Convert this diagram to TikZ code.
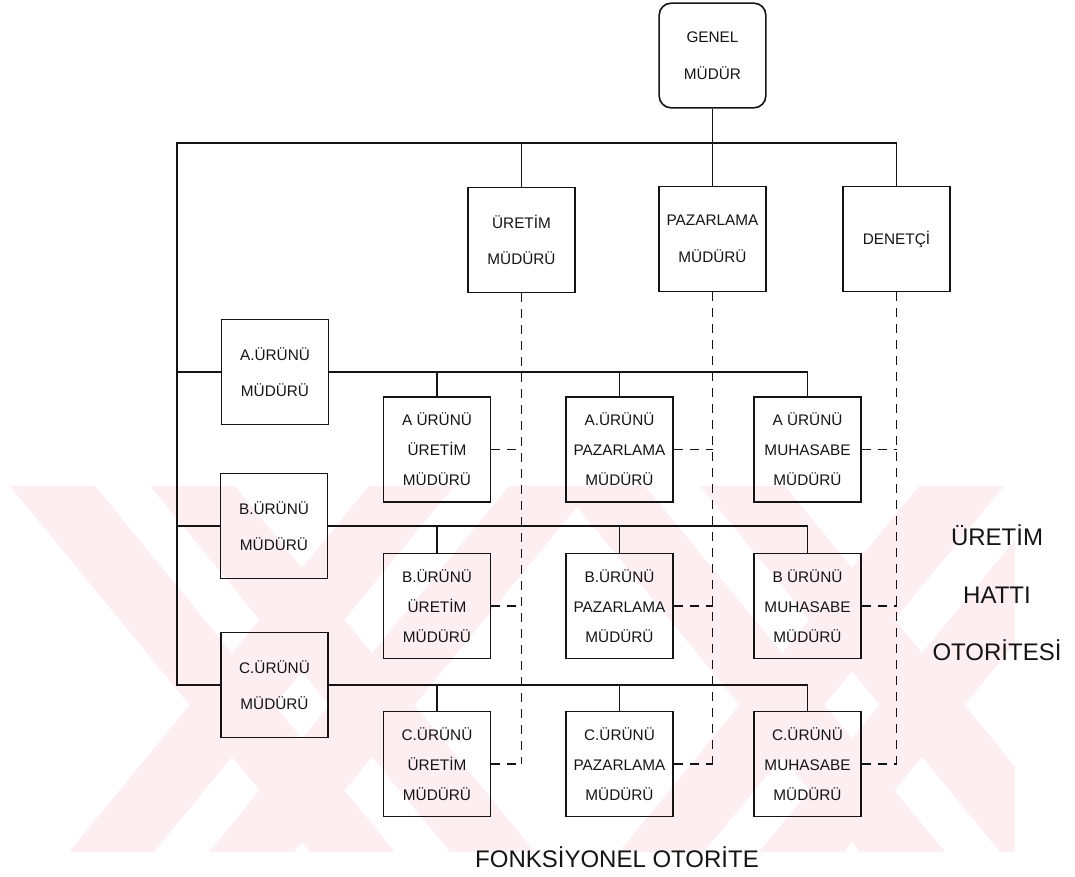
\documentclass[tikz,border=0pt]{standalone}
\usepackage{fontspec}
\setmainfont{Liberation Sans}
\definecolor{ink}{HTML}{141414}
\definecolor{wm}{HTML}{FDEEF1}
\tikzset{
  unit/.style={draw=ink, line width=1.2pt, fill=none, minimum width=80pt, minimum height=78.5pt,
               align=center, inner sep=1pt, text=ink, font=\fontsize{11.5}{27.5}\selectfont},
  unitx/.style={unit, font=\fontsize{11.5}{22.5}\selectfont},
  hatt/.style={draw=ink, line width=1.2pt},
  fonk/.style={draw=ink, line width=1.2pt, dash pattern=on 7pt off 5pt},
  yazi/.style={text=ink, align=center, font=\fontsize{18}{43}\selectfont},
}
\begin{document}
\begin{tikzpicture}[x=0.75pt,y=-0.75pt]
  \useasboundingbox (0,0) rectangle (1075,877);
  % filigran
  \begin{scope}
    \clip (0,486) rectangle (1015,852);
    \foreach \t in {10,150,560,700} \fill[wm] (\t,486) -- ++(85,0) -- ++(300,366) -- ++(-85,0) -- cycle;
    \foreach \t in {69,209,619,759} \fill[wm] (\t,852) -- ++(85,0) -- ++(300,-366) -- ++(-85,0) -- cycle;
  \end{scope}
  % ust kademe
  \node[unit, rounded corners=9pt] (gm) at (712.5,55.5) {GENEL\\MÜDÜR};
  \node[unit] (um) at (521.5,240) {ÜRETİM\\MÜDÜRÜ};
  \node[unit] (pm) at (712.5,239) {PAZARLAMA\\MÜDÜRÜ};
  \node[unit] (dn) at (896.5,239) {DENETÇİ};
  % urun mudurleri
  \node[unit] (a) at (275,372) {A.ÜRÜNÜ\\MÜDÜRÜ};
  \node[unit] (b) at (274,526) {B.ÜRÜNÜ\\MÜDÜRÜ};
  \node[unit] (c) at (274.5,685) {C.ÜRÜNÜ\\MÜDÜRÜ};
  \node[unitx] (ua) at (437,449.5) {A ÜRÜNÜ\\ÜRETİM\\MÜDÜRÜ};
  \node[unitx] (pa) at (619.5,449.5) {A.ÜRÜNÜ\\PAZARLAMA\\MÜDÜRÜ};
  \node[unitx] (ma) at (807.5,449.5) {A ÜRÜNÜ\\MUHASABE\\MÜDÜRÜ};
  \node[unitx] (ub) at (437,606) {B.ÜRÜNÜ\\ÜRETİM\\MÜDÜRÜ};
  \node[unitx] (pb) at (619.5,606) {B.ÜRÜNÜ\\PAZARLAMA\\MÜDÜRÜ};
  \node[unitx] (mb) at (807.5,606) {B ÜRÜNÜ\\MUHASABE\\MÜDÜRÜ};
  \node[unitx] (uc) at (437,764) {C.ÜRÜNÜ\\ÜRETİM\\MÜDÜRÜ};
  \node[unitx] (pc) at (619.5,764) {C.ÜRÜNÜ\\PAZARLAMA\\MÜDÜRÜ};
  \node[unitx] (mc) at (807.5,764) {C.ÜRÜNÜ\\MUHASABE\\MÜDÜRÜ};
  % hat baglantilari
  \coordinate (k) at (177,143);
  \draw[hatt] (gm.south) -- (pm.north);
  \draw[hatt] (c.west) -| (k) -| (dn.north);
  \draw[hatt] (um.north) -- (um.north |- k);
  \foreach \r in {a,b} \draw[hatt] (\r.west) -- (\r.west -| k);
  \foreach \r in {a,b,c} {
    \draw[hatt] (\r.east) -| (m\r.north);
    \draw[hatt] (u\r.north) -- (u\r.north |- \r.east);
    \draw[hatt] (p\r.north) -- (p\r.north |- \r.east);
  }
  % fonksiyonel baglantilar
  \foreach \f/\k in {um/u,pm/p,dn/m} {
    \draw[fonk] (\f.south) -- (\f.south |- \k c.east);
    \foreach \r in {a,b,c} \draw[fonk] (\k\r.east) -- (\k\r.east -| \f.south);
  }
  \node[yazi] (hat) at (997,593) {ÜRETİM\\HATTI\\OTORİTESİ};
  \node[yazi] (fo) at (617,857) {FONKSİYONEL OTORİTE};
\end{tikzpicture}
\end{document}
